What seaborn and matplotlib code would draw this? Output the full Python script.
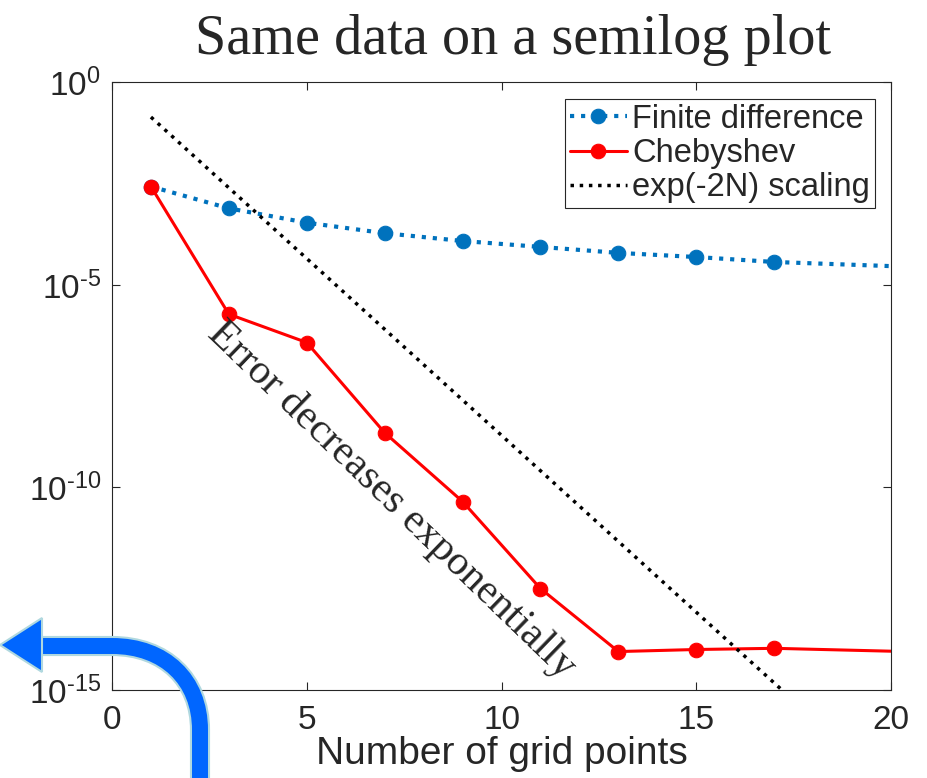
import numpy as np
import seaborn as sns
import matplotlib.pyplot as plt
from matplotlib.path import Path
from matplotlib.patches import PathPatch, Polygon
import matplotlib.patheffects as pe

# data
n_fd = [1, 3, 5, 7, 9, 11, 13, 15, 17, 21]
err_fd = [2.7e-3, 7.8e-4, 3.45e-4, 1.9e-4, 1.22e-4, 8.7e-5, 6.2e-5, 4.9e-5, 3.7e-5, 2.7e-5]

n_cheb = [1, 3, 5, 7, 9, 11, 13, 15, 17, 21]
err_cheb = [2.7e-3, 1.9e-6, 3.8e-7, 2.25e-9, 4.5e-11, 3.2e-13, 8.9e-15, 1.0e-14, 1.07e-14, 8.6e-15]

n_ref = [1, 17.2]
err_ref = [0.14, 1.0e-15]

xticks = [0, 5, 10, 15, 20]
yticks = [1e-15, 1e-10, 1e-5, 1e0]
ytick_labels = [r'$10^{\text{-15}}$', r'$10^{\text{-10}}$', r'$10^{\text{-5}}$', r'$10^{0}$']

sns.set_theme(style="ticks")
plt.rcParams['font.family'] = ['Liberation Sans', 'DejaVu Sans']
plt.rcParams['mathtext.fontset'] = 'custom'
plt.rcParams['mathtext.rm'] = 'Liberation Sans'
plt.rcParams['mathtext.it'] = 'Liberation Sans'
plt.rcParams['mathtext.default'] = 'regular'

fig = plt.figure(figsize=(9.27, 7.78), dpi=100)
ax = fig.add_axes([0.1208, 0.1131, 0.8404, 0.7809])

sns.lineplot(x=n_fd, y=err_fd, ax=ax, color='#0072BD', linestyle=':', linewidth=3,
             marker='o', markersize=10.5, markeredgecolor='#0072BD',
             label='Finite difference')
sns.lineplot(x=n_cheb, y=err_cheb, ax=ax, color='red', linestyle='-', linewidth=2.2,
             marker='o', markersize=10.5, markeredgecolor='red',
             label='Chebyshev')
sns.lineplot(x=n_ref, y=err_ref, ax=ax, color='black', linestyle=':', linewidth=2.5,
             label='exp(-2N) scaling')

ax.set_yscale('log')
ax.set_xlim(0, 20)
ax.set_ylim(1e-15, 1e0)
ax.set_xticks(xticks)
ax.set_xticklabels([str(t) for t in xticks])
ax.set_yticks(yticks)
ax.set_yticklabels(ytick_labels)
ax.minorticks_off()
ax.tick_params(direction='in', length=6, width=0.8, colors='#262626',
               labelsize=24, top=True, right=True)
ax.tick_params(axis='y', pad=8)
ax.tick_params(axis='x', pad=11)
for s in ax.spines.values():
    s.set_visible(True)
    s.set_color('#262626')
    s.set_linewidth(0.8)

ax.set_xlabel('Number of grid points', fontsize=28, color='#262626', labelpad=0)
ax.set_ylabel('')

leg = ax.legend(loc='upper right', fontsize=23.5, frameon=True, fancybox=False,
                edgecolor='#262626', framealpha=1, handlelength=1.75,
                handletextpad=0.15, labelspacing=0.1, borderpad=0.15,
                borderaxespad=0.5)
leg.get_frame().set_linewidth(0.8)

ax.text(7.19, 4.9e-11, 'Error decreases exponentially', family='Liberation Serif',
        fontsize=30, rotation=-44, rotation_mode='anchor', ha='center', va='center')

fig.text(0.553, 0.949, 'Same data on a semilog plot', family='Liberation Serif',
         fontsize=40.5, ha='center', va='center')


# decorative blue arrow (figure pixel coords -> fraction)
def fp(x, y):
    return (x / 927, 1 - y / 778)


verts = [fp(200, 800), fp(200, 730), fp(200, 680), fp(165, 646), fp(112, 646), fp(38, 646)]
codes = [Path.MOVETO, Path.LINETO, Path.CURVE4, Path.CURVE4, Path.CURVE4, Path.LINETO]
shaft = PathPatch(Path(verts, codes), transform=fig.transFigure, fill=False,
                  edgecolor='#0066FF', linewidth=11.5, capstyle='butt', clip_on=False,
                  path_effects=[pe.Stroke(linewidth=14.5, foreground='#B0D8DF'), pe.Normal()])
fig.add_artist(shaft)
head = Polygon([fp(0, 645), fp(42, 618), fp(42, 672)], closed=True, transform=fig.transFigure,
               facecolor='#0066FF', edgecolor='#B0D8DF', linewidth=1.5, clip_on=False)
fig.add_artist(head)

fig.savefig('out.png', dpi=100)
